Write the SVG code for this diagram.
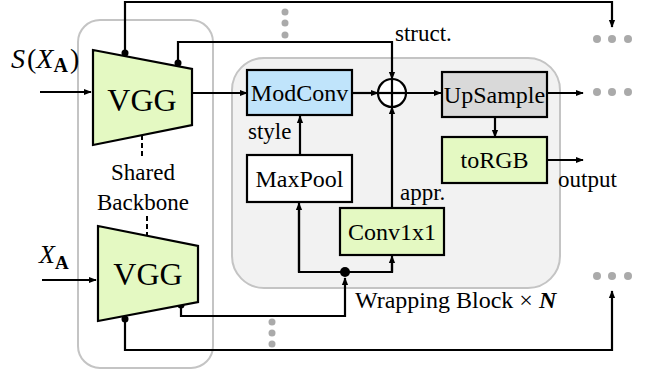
<svg xmlns="http://www.w3.org/2000/svg" width="645" height="375" viewBox="0 0 645 375">
<style>
text{font-family:'Liberation Serif','Times New Roman',serif;fill:#000}
.lbl{font-size:23px}
.bt{font-size:24px;text-anchor:middle}
.box{stroke:#000;stroke-width:2.2}
.ln{fill:none;stroke:#000;stroke-width:2.2}
.dash{fill:none;stroke:#000;stroke-width:2;stroke-dasharray:5,3}
.dot{fill:#aaaaaa}
.grn{fill:#e4f9c2}
</style>
<defs>
<marker id="ahb" viewBox="0 0 10 10" refX="9" refY="5" markerWidth="8" markerHeight="8" orient="auto" markerUnits="userSpaceOnUse">
<path d="M0,1 L10,5 L0,9 z" fill="#000"/>
</marker>
</defs>

<g id="backbone">
<rect x="78" y="20" width="135" height="348" rx="22" fill="none" stroke="#c4c4c4" stroke-width="2"/>
<text class="lbl" x="143" y="180" text-anchor="middle">Shared</text>
<text class="lbl" x="143" y="210" text-anchor="middle">Backbone</text>
</g>

<g id="wrapping-block">
<rect x="232" y="58" width="328" height="230" rx="32" fill="#f2f2f2" stroke="#c4c4c4" stroke-width="2"/>
<text class="lbl" x="355" y="308" font-size="24" style="font-size:24px">Wrapping Block × <tspan font-weight="bold" font-style="italic">N</tspan></text>
</g>

<g id="connectors">
<line class="dash" x1="142" y1="135" x2="142" y2="157"/>
<line class="dash" x1="147" y1="216" x2="147" y2="236"/>
<line class="ln" x1="40" y1="92" x2="91" y2="92" marker-end="url(#ahb)"/>
<line class="ln" x1="42" y1="280" x2="96" y2="280" marker-end="url(#ahb)"/>
<polyline class="ln" points="125,53 125,2 612,2 612,27" marker-end="url(#ahb)"/>
<polyline class="ln" points="178,63 178,42 392,42 392,79" marker-end="url(#ahb)"/>
<line class="ln" x1="192" y1="93" x2="247" y2="93" marker-end="url(#ahb)"/>
<line class="ln" x1="352" y1="93" x2="378" y2="93" marker-end="url(#ahb)"/>
<line class="ln" x1="406" y1="93" x2="441" y2="93" marker-end="url(#ahb)"/>
<line class="ln" x1="547" y1="93" x2="583" y2="93" marker-end="url(#ahb)"/>
<line class="ln" x1="495" y1="117" x2="495" y2="137" marker-end="url(#ahb)"/>
<line class="ln" x1="547" y1="160" x2="583" y2="160" marker-end="url(#ahb)"/>
<line class="ln" x1="300" y1="155" x2="300" y2="116" marker-end="url(#ahb)"/>
<line class="ln" x1="392" y1="208" x2="392" y2="107" marker-end="url(#ahb)"/>
<polyline class="ln" points="181,305 181,316 345,316 345,278" marker-end="url(#ahb)"/>
<polyline class="ln" points="299,210 299,272 392,272 392,262"/>
<line class="ln" x1="299" y1="272" x2="299" y2="203" marker-end="url(#ahb)"/>
<line class="ln" x1="392" y1="272" x2="392" y2="256" marker-end="url(#ahb)"/>
<polyline class="ln" points="125,318 125,350 612,350 612,291" marker-end="url(#ahb)"/>
<circle cx="345" cy="272" r="5" fill="#000"/>
<circle cx="125" cy="53" r="3.5" fill="#000"/>
<circle cx="178" cy="63" r="3.5" fill="#000"/>
<circle cx="181" cy="305" r="3.5" fill="#000"/>
<circle cx="125" cy="319" r="3.5" fill="#000"/>
</g>

<g id="label-s">
<text x="11" y="68" font-size="28"><tspan font-style="italic">S</tspan><tspan dx="2">(</tspan><tspan font-style="italic">X</tspan><tspan font-weight="bold" font-size="20" dy="4">A</tspan><tspan dy="-4" dx="2">)</tspan></text>
</g>
<g id="label-x">
<text x="39" y="263" font-size="26"><tspan font-style="italic">X</tspan><tspan font-weight="bold" font-size="19" dy="6">A</tspan></text>
</g>

<g id="vgg-top">
<polygon class="box grn" points="93,50 192,69 192,125 93,145"/>
<text x="142" y="111" font-size="32" text-anchor="middle">VGG</text>
</g>
<g id="vgg-bottom">
<polygon class="box grn" points="98,226 198,246 198,302 98,321"/>
<text x="148" y="285" font-size="32" text-anchor="middle">VGG</text>
</g>

<g id="modconv">
<rect class="box" x="247" y="70" width="105" height="45" fill="#c0e4fb"/>
<text class="bt" x="299.5" y="101">ModConv</text>
</g>
<g id="plus">
<circle cx="392" cy="93" r="14" fill="#fff" stroke="#000" stroke-width="2.2"/>
<line class="ln" x1="378" y1="93" x2="406" y2="93"/>
<line class="ln" x1="392" y1="79" x2="392" y2="107"/>
</g>
<text class="lbl" x="395" y="41">struct.</text>
<g id="upsample">
<rect class="box" x="442" y="72" width="105" height="45" fill="#d9d9d9"/>
<text class="bt" x="494.5" y="103">UpSample</text>
</g>
<g id="torgb">
<rect class="box grn" x="442" y="137" width="105" height="46"/>
<text class="bt" x="494.5" y="168">toRGB</text>
</g>
<text class="lbl" x="558" y="187">output</text>
<g id="maxpool">
<rect class="box" x="247" y="155" width="105" height="47" fill="#fff"/>
<text class="bt" x="299.5" y="187">MaxPool</text>
</g>
<text class="lbl" x="248" y="139">style</text>
<g id="conv1x1">
<rect class="box grn" x="340" y="208" width="104" height="47"/>
<text class="bt" x="392" y="240">Conv1x1</text>
</g>
<text class="lbl" x="400" y="200">appr.</text>

<g id="dots">
<circle class="dot" cx="285" cy="12" r="3.5"/>
<circle class="dot" cx="285" cy="23" r="3.5"/>
<circle class="dot" cx="285" cy="35" r="3.5"/>
<circle class="dot" cx="272" cy="322" r="3.5"/>
<circle class="dot" cx="272" cy="333" r="3.5"/>
<circle class="dot" cx="272" cy="344" r="3.5"/>
<circle class="dot" cx="597" cy="39" r="4"/>
<circle class="dot" cx="612" cy="39" r="4"/>
<circle class="dot" cx="628" cy="39" r="4"/>
<circle class="dot" cx="597" cy="92" r="4"/>
<circle class="dot" cx="612" cy="92" r="4"/>
<circle class="dot" cx="628" cy="92" r="4"/>
<circle class="dot" cx="597" cy="276" r="4"/>
<circle class="dot" cx="612" cy="276" r="4"/>
<circle class="dot" cx="628" cy="276" r="4"/>
</g>
</svg>
